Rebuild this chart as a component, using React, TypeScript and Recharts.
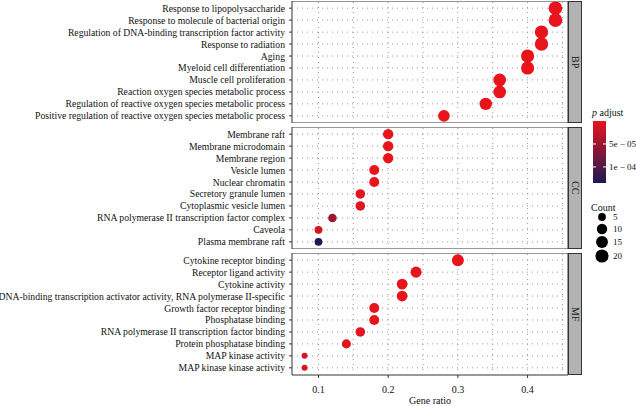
import { ScatterChart, Scatter, XAxis, YAxis, ReferenceLine, ReferenceArea } from "recharts";

const bpTerms = [
  "Response to lipopolysaccharide",
  "Response to molecule of bacterial origin",
  "Regulation of DNA-binding transcription factor activity",
  "Response to radiation",
  "Aging",
  "Myeloid cell differentiation",
  "Muscle cell proliferation",
  "Reaction oxygen species metabolic process",
  "Regulation of reactive oxygen species metabolic process",
  "Positive regulation of reactive oxygen species metabolic process",
];
const bpRatio = [0.44, 0.44, 0.42, 0.42, 0.4, 0.4, 0.36, 0.36, 0.34, 0.28];
const bpCount = [22, 22, 21, 21, 20, 20, 18, 18, 17, 14];
const bpP = [2.1e-14, 3.5e-14, 1.2e-12, 4.0e-12, 8.8e-12, 1.5e-11, 6.2e-10, 7.4e-10, 3.1e-9, 2.2e-7];

const ccTerms = [
  "Membrane raft",
  "Membrane microdomain",
  "Membrane region",
  "Vesicle lumen",
  "Nuclear chromatin",
  "Secretory granule lumen",
  "Cytoplasmic vesicle lumen",
  "RNA polymerase II transcription factor complex",
  "Caveola",
  "Plasma membrane raft",
];
const ccRatio = [0.2, 0.2, 0.2, 0.18, 0.18, 0.16, 0.16, 0.12, 0.1, 0.1];
const ccCount = [10, 10, 10, 9, 9, 8, 8, 6, 5, 5];
const ccP = [1.1e-7, 1.3e-7, 1.6e-7, 8.4e-7, 9.0e-7, 4.2e-6, 4.6e-6, 4.8e-5, 1.2e-5, 1.35e-4];

const mfTerms = [
  "Cytokine receptor binding",
  "Receptor ligand activity",
  "Cytokine activity",
  "DNA-binding transcription activator activity, RNA polymerase II-specific",
  "Growth factor receptor binding",
  "Phosphatase binding",
  "RNA polymerase II transcription factor binding",
  "Protein phosphatase binding",
  "MAP kinase activity",
  "MAP kinase kinase activity",
];
const mfRatio = [0.3, 0.24, 0.22, 0.22, 0.18, 0.18, 0.16, 0.14, 0.08, 0.08];
const mfCount = [15, 12, 11, 11, 9, 9, 8, 7, 4, 4];
const mfP = [1.4e-9, 2.6e-8, 3.1e-8, 3.4e-8, 6.9e-7, 7.2e-7, 2.3e-6, 3.8e-6, 7.5e-6, 8.1e-6];

const xTicks = [0.1, 0.2, 0.3, 0.4];
const xGrid = [0.1, 0.15, 0.2, 0.25, 0.3, 0.35, 0.4, 0.45];
const rowIdx = [0, 1, 2, 3, 4, 5, 6, 7, 8, 9];
const legendP = [5e-5, 1e-4];
const legendPLabels = ["5e \u2212 05", "1e \u2212 04"];
const legendCounts = [5, 10, 15, 20];

const X_MIN = 0.062;
const X_MAX = 0.458;
const FONT = "'Liberation Serif', 'DejaVu Serif', serif";
const TEXT = "#111";

const allP = [...bpP, ...ccP, ...mfP];
const allCount = [...bpCount, ...ccCount, ...mfCount];
const pMin = 0;
const pMax = Math.max(...allP);
const cMin = Math.min(...allCount);
const cMax = Math.max(...allCount);

const LOW = [232, 20, 28];
const HIGH = [27, 26, 84];
function colorFor(p: number) {
  const t = Math.min(1, Math.max(0, (p - pMin) / (pMax - pMin)));
  const c = LOW.map((v, i) => Math.round(v + (HIGH[i] - v) * t));
  return `rgb(${c[0]},${c[1]},${c[2]})`;
}
function radiusFor(c: number) {
  return 3 + 3.8 * Math.sqrt(Math.max(0, (c - cMin) / (cMax - cMin)));
}

const PANEL_H = 122;
const X_AXIS_H = 31;

type PanelProps = {
  terms: string[];
  ratio: number[];
  count: number[];
  p: number[];
  top: number;
  label: string;
  showX?: boolean;
};

function Panel({ terms, ratio, count, p, top, label, showX }: PanelProps) {
  const data = terms.map((t, i) => ({ term: t, x: ratio[i], y: i, count: count[i], p: p[i] }));
  const h = PANEL_H + (showX ? X_AXIS_H : 0);
  const termTick = (props: any) => (
    <text
      x={props.x}
      y={props.y}
      dy={3.5}
      textAnchor="end"
      fontSize={9.7}
      fill={TEXT}
      fontFamily={FONT}
    >
      {terms[Math.round(props.payload.value)]}
    </text>
  );
  return (
    <>
      <div style={{ position: "absolute", left: 0, top, width: 568, height: h }}>
        <ScatterChart width={568} height={h} margin={{ top: 0, right: 0, bottom: 0, left: 0 }}>
          <XAxis
            type="number"
            dataKey="x"
            domain={[X_MIN, X_MAX]}
            allowDataOverflow
            ticks={xTicks}
            hide={!showX}
            height={X_AXIS_H}
            axisLine={false}
            tickLine={{ stroke: "#333" }}
            tickSize={3}
            tickMargin={8}
            tick={{ fontSize: 10, fill: TEXT, fontFamily: FONT }}
            label={{ value: "Gene ratio", position: "insideBottom", offset: 2, fontSize: 10, fill: TEXT, fontFamily: FONT }}
          />
          <YAxis
            type="number"
            dataKey="y"
            domain={[-0.6, 9.6]}
            reversed
            ticks={rowIdx}
            interval={0}
            width={292}
            axisLine={false}
            tickLine={{ stroke: "#333" }}
            tickSize={3}
            tickMargin={4}
            tick={termTick}
          />
          {xGrid.map((g) => (
            <ReferenceLine key={"v" + g} x={g} stroke="#9a9a9a" strokeDasharray="1 4" />
          ))}
          {rowIdx.map((r) => (
            <ReferenceLine key={"h" + r} y={r} stroke="#9a9a9a" strokeDasharray="1 4" />
          ))}
          <ReferenceArea x1={X_MIN} x2={X_MAX} y1={-0.6} y2={9.6} fill="none" stroke="#333" strokeWidth={1} />
          <Scatter
            data={data}
            isAnimationActive={false}
            shape={(props: any) => (
              <circle
                cx={props.cx}
                cy={props.cy}
                r={radiusFor(props.payload.count)}
                fill={colorFor(props.payload.p)}
              />
            )}
          />
        </ScatterChart>
      </div>
      <div
        style={{
          position: "absolute",
          left: 568,
          top,
          width: 14,
          height: PANEL_H,
          boxSizing: "border-box",
          background: "#b3b3b3",
          border: "1px solid #333",
          display: "flex",
          alignItems: "center",
          justifyContent: "center",
          writingMode: "vertical-rl",
          fontSize: 10,
          color: TEXT,
          fontFamily: FONT,
        }}
      >
        {label}
      </div>
    </>
  );
}

function Legend() {
  const barTop = 121;
  const barH = 62;
  const stops = Array.from({ length: 11 }, (_, i) => i / 10);
  const yFor = (v: number) => barTop + ((v - pMin) / (pMax - pMin)) * barH;
  const countY = [217, 229, 242, 256];
  return (
    <svg width={636} height={406} style={{ position: "absolute", left: 0, top: 0, pointerEvents: "none" }}>
      <defs>
        <linearGradient id="padj" x1="0" y1="0" x2="0" y2="1">
          {stops.map((s) => (
            <stop key={s} offset={s} stopColor={colorFor(pMin + s * (pMax - pMin))} />
          ))}
        </linearGradient>
      </defs>
      <text x={592} y={116} fontSize={10} fill={TEXT} fontFamily={FONT}>
        <tspan fontStyle="italic">p</tspan> adjust
      </text>
      <rect x={593} y={barTop} width={13} height={barH} fill="url(#padj)" />
      {legendP.map((v, i) => (
        <g key={v}>
          <line x1={593} x2={596} y1={yFor(v)} y2={yFor(v)} stroke="#fff" />
          <line x1={603} x2={606} y1={yFor(v)} y2={yFor(v)} stroke="#fff" />
          <text x={609} y={yFor(v) + 3} fontSize={9} fill={TEXT} fontFamily={FONT}>
            {legendPLabels[i]}
          </text>
        </g>
      ))}
      <text x={591} y={211} fontSize={10} fill={TEXT} fontFamily={FONT}>
        Count
      </text>
      {legendCounts.map((c, i) => (
        <g key={c}>
          <circle cx={602} cy={countY[i]} r={radiusFor(c)} fill="#000" />
          <text x={613} y={countY[i] + 3} fontSize={9} fill={TEXT} fontFamily={FONT}>
            {c}
          </text>
        </g>
      ))}
    </svg>
  );
}

export default function App() {
  return (
    <div style={{ position: "absolute", left: 0, top: 0, width: 636, height: 406, background: "#fff", fontFamily: FONT }}>
      <Panel terms={bpTerms} ratio={bpRatio} count={bpCount} p={bpP} top={1} label="BP" />
      <Panel terms={ccTerms} ratio={ccRatio} count={ccCount} p={ccP} top={127} label="CC" />
      <Panel terms={mfTerms} ratio={mfRatio} count={mfCount} p={mfP} top={253} label="MF" showX />
      <Legend />
    </div>
  );
}
